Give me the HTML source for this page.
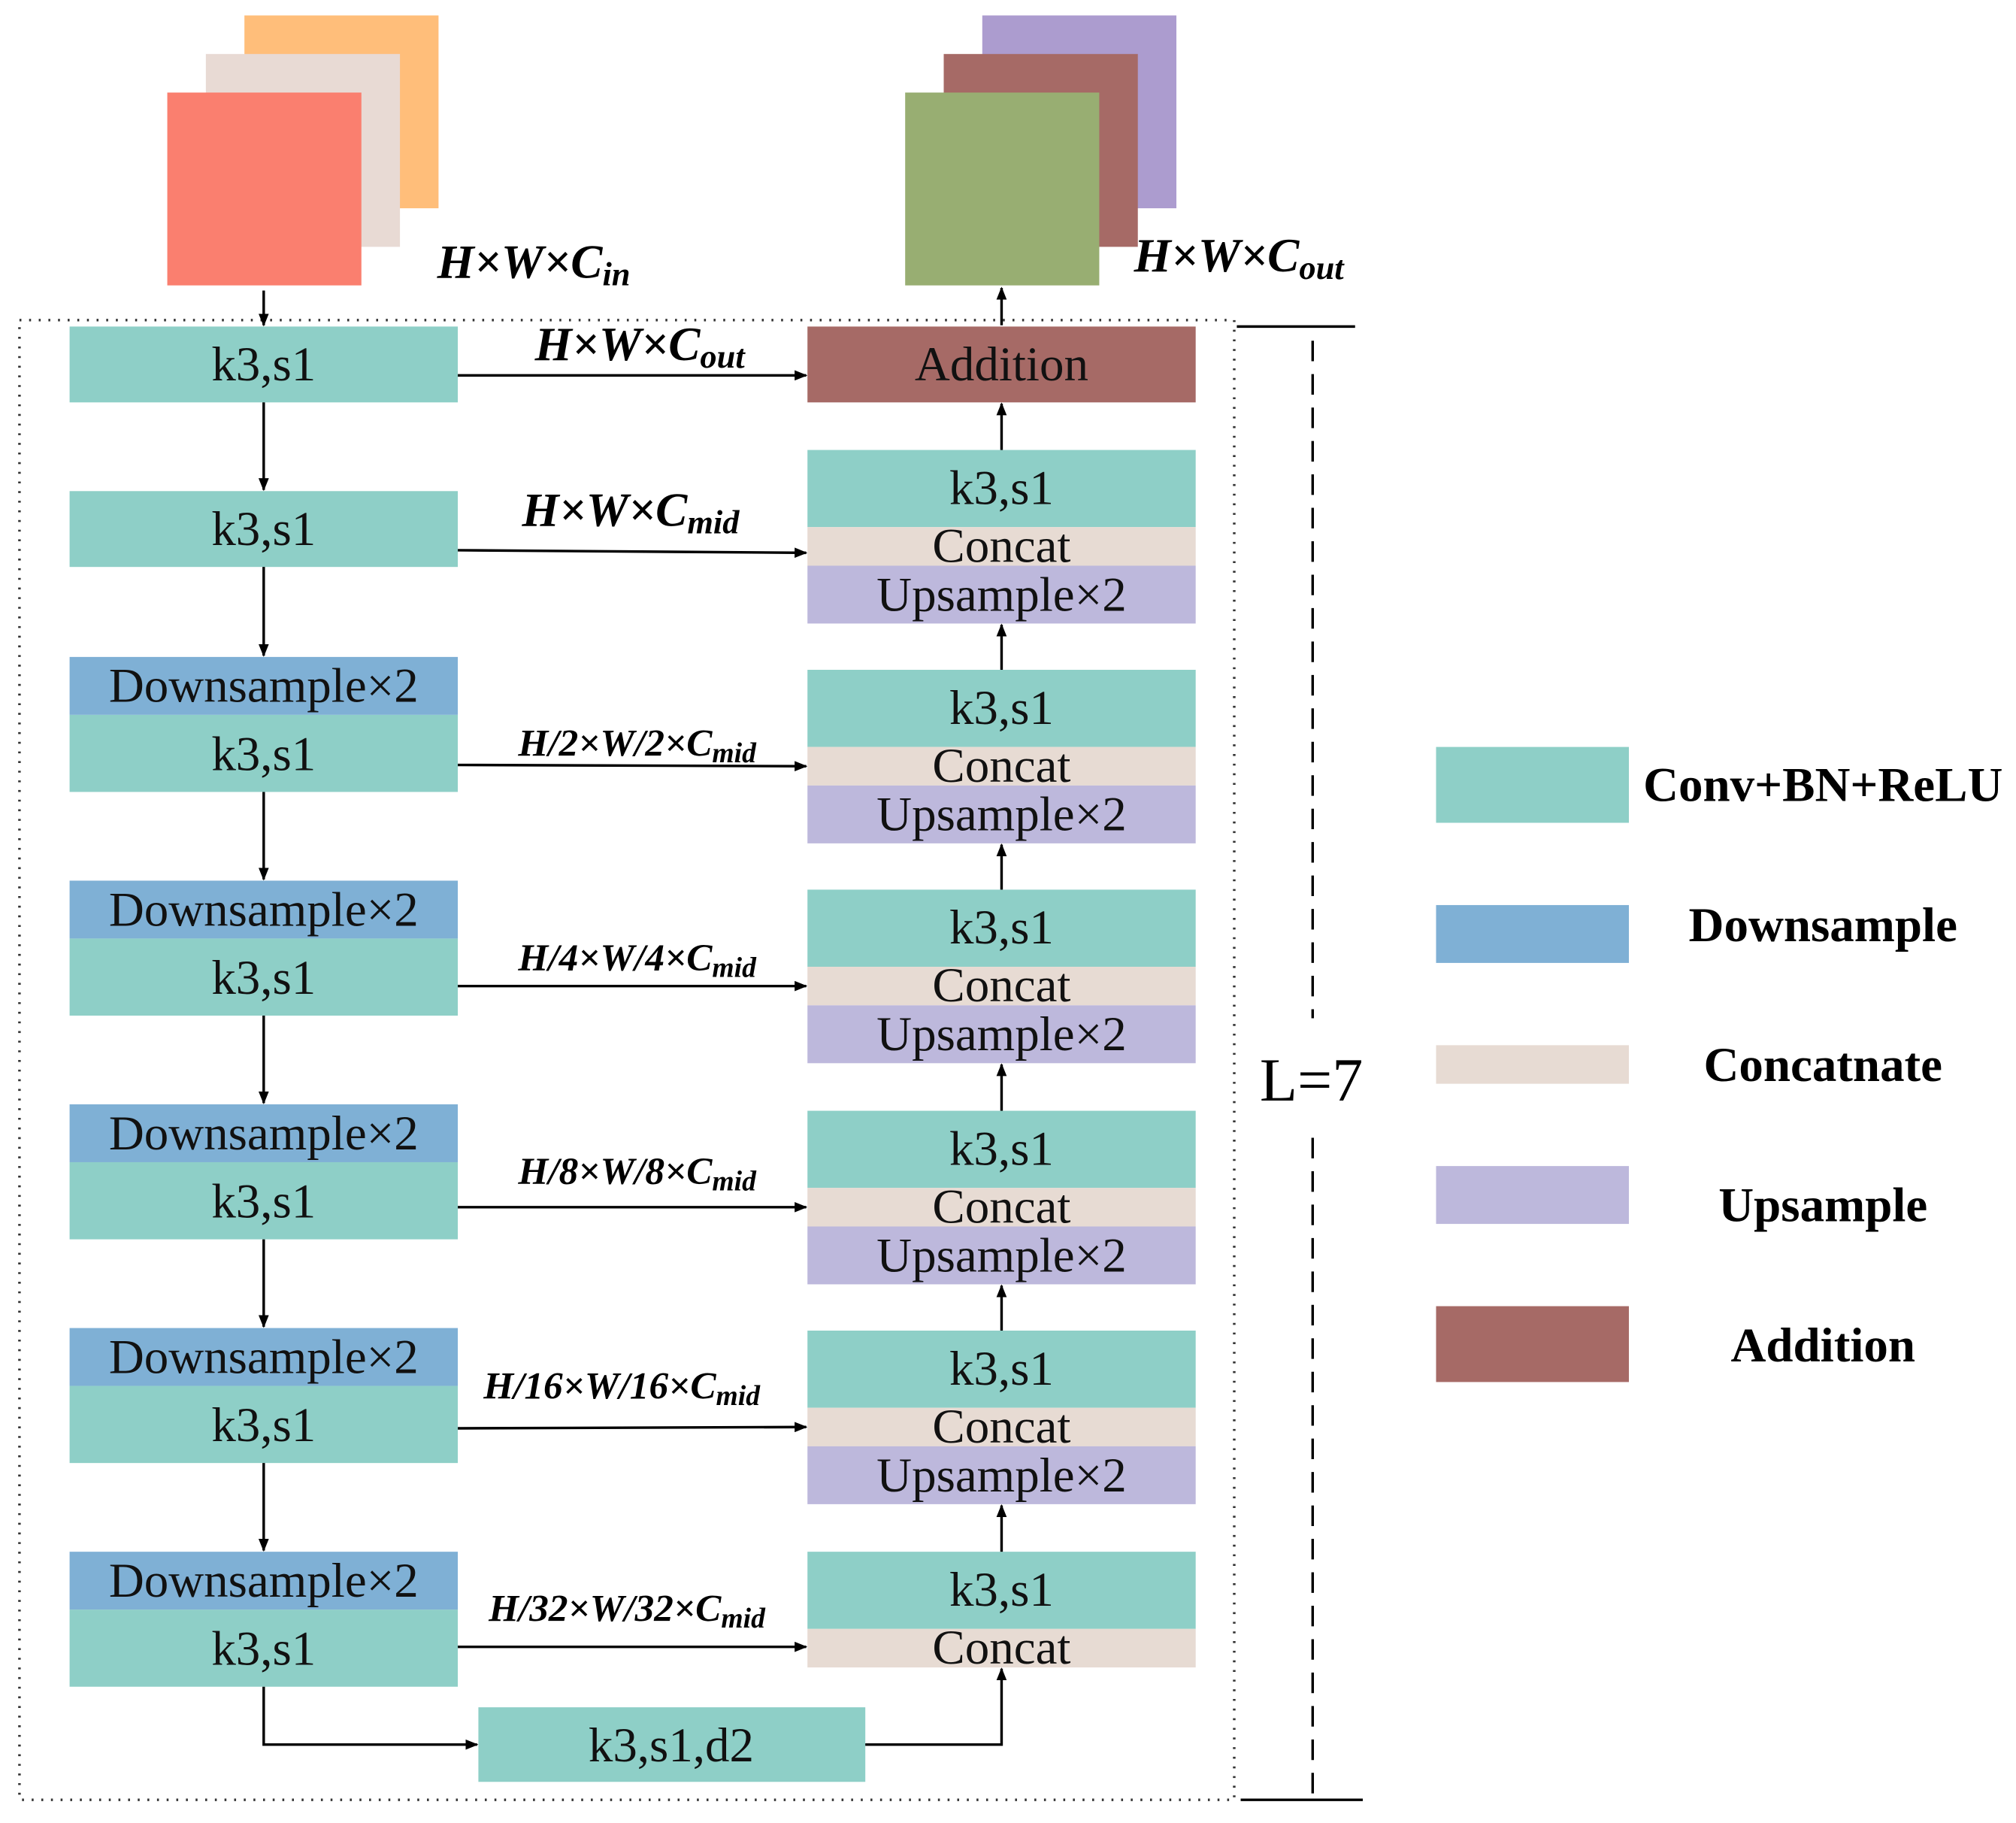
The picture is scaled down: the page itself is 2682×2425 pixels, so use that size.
<!DOCTYPE html>
<html><head><meta charset="utf-8"><style>html,body{margin:0;padding:0;background:#fff}svg{display:block}</style></head>
<body>
<svg width="2682" height="2425" viewBox="0 0 1568 1418" xmlns="http://www.w3.org/2000/svg" font-family="'Liberation Serif', serif">
<defs>
<marker id="a" markerWidth="10" markerHeight="8" refX="9" refY="4" orient="auto" markerUnits="userSpaceOnUse"><path d="M0,0 L10,4 L0,8 z" fill="#000"/></marker>
</defs>
<rect width="1568" height="1418" fill="#fff"/>
<rect x="190" y="12" width="151" height="150" fill="#ffbe7a"/>
<rect x="160" y="42" width="151" height="150" fill="#e8dad4"/>
<rect x="130" y="72" width="151" height="150" fill="#fa7f6f"/>
<rect x="764" y="12" width="151" height="150" fill="#ac9ccf"/>
<rect x="734" y="42" width="151" height="150" fill="#a66a66"/>
<rect x="704" y="72" width="151" height="150" fill="#98ae72"/>
<g font-style="italic" font-weight="bold" font-size="37">
<text x="340" y="216">H×W×C<tspan font-size="26" dy="6">in</tspan></text>
<text x="882" y="211">H×W×C<tspan font-size="26" dy="6">out</tspan></text>
</g>
<rect x="15" y="249" width="945" height="1151" fill="none" stroke="#333" stroke-width="2" stroke-dasharray="1.5,6"/>
<g fill="#8ecfc7">
<rect x="54" y="254" width="302" height="59"/>
<rect x="54" y="382" width="302" height="59"/>
<rect x="54" y="556" width="302" height="60"/>
<rect x="54" y="730" width="302" height="60"/>
<rect x="54" y="904" width="302" height="60"/>
<rect x="54" y="1078" width="302" height="60"/>
<rect x="54" y="1252" width="302" height="60"/>
<rect x="372" y="1328" width="301" height="58"/>
<rect x="628" y="350" width="302" height="60"/>
<rect x="628" y="521" width="302" height="60"/>
<rect x="628" y="692" width="302" height="60"/>
<rect x="628" y="864" width="302" height="60"/>
<rect x="628" y="1035" width="302" height="60"/>
<rect x="628" y="1207" width="302" height="60"/>
</g>
<g fill="#7fb0d5">
<rect x="54" y="511" width="302" height="45"/>
<rect x="54" y="685" width="302" height="45"/>
<rect x="54" y="859" width="302" height="45"/>
<rect x="54" y="1033" width="302" height="45"/>
<rect x="54" y="1207" width="302" height="45"/>
</g>
<g fill="#e7dbd3">
<rect x="628" y="410" width="302" height="30"/>
<rect x="628" y="581" width="302" height="30"/>
<rect x="628" y="752" width="302" height="30"/>
<rect x="628" y="924" width="302" height="30"/>
<rect x="628" y="1095" width="302" height="30"/>
<rect x="628" y="1267" width="302" height="30"/>
</g>
<g fill="#bdb8dc">
<rect x="628" y="440" width="302" height="45"/>
<rect x="628" y="611" width="302" height="45"/>
<rect x="628" y="782" width="302" height="45"/>
<rect x="628" y="954" width="302" height="45"/>
<rect x="628" y="1125" width="302" height="45"/>
</g>
<rect x="628" y="254" width="302" height="59" fill="#a66a66"/>
<g font-size="38" text-anchor="middle" fill="#111">
<text x="205" y="296">k3,s1</text>
<text x="205" y="424">k3,s1</text>
<text x="205" y="546">Downsample×2</text><text x="205" y="599">k3,s1</text>
<text x="205" y="720">Downsample×2</text><text x="205" y="773">k3,s1</text>
<text x="205" y="894">Downsample×2</text><text x="205" y="947">k3,s1</text>
<text x="205" y="1068">Downsample×2</text><text x="205" y="1121">k3,s1</text>
<text x="205" y="1242">Downsample×2</text><text x="205" y="1295">k3,s1</text>
<text x="522" y="1370">k3,s1,d2</text>
<text x="779" y="296">Addition</text>
<text x="779" y="392">k3,s1</text><text x="779" y="437">Concat</text><text x="779" y="475">Upsample×2</text>
<text x="779" y="563">k3,s1</text><text x="779" y="608">Concat</text><text x="779" y="646">Upsample×2</text>
<text x="779" y="734">k3,s1</text><text x="779" y="779">Concat</text><text x="779" y="817">Upsample×2</text>
<text x="779" y="906">k3,s1</text><text x="779" y="951">Concat</text><text x="779" y="989">Upsample×2</text>
<text x="779" y="1077">k3,s1</text><text x="779" y="1122">Concat</text><text x="779" y="1160">Upsample×2</text>
<text x="779" y="1249">k3,s1</text><text x="779" y="1294">Concat</text>
</g>
<g stroke="#000" stroke-width="2" fill="none" marker-end="url(#a)">
<line x1="205" y1="226" x2="205" y2="253"/>
<line x1="779" y1="253" x2="779" y2="224"/>
<line x1="205" y1="313" x2="205" y2="381"/>
<line x1="205" y1="441" x2="205" y2="510"/>
<line x1="205" y1="616" x2="205" y2="684"/>
<line x1="205" y1="790" x2="205" y2="858"/>
<line x1="205" y1="964" x2="205" y2="1032"/>
<line x1="205" y1="1138" x2="205" y2="1206"/>
<polyline points="205,1312 205,1357 371,1357"/>
<polyline points="673,1357 779,1357 779,1298"/>
<line x1="779" y1="1207" x2="779" y2="1171"/>
<line x1="779" y1="1035" x2="779" y2="1000"/>
<line x1="779" y1="864" x2="779" y2="828"/>
<line x1="779" y1="692" x2="779" y2="657"/>
<line x1="779" y1="521" x2="779" y2="486"/>
<line x1="779" y1="350" x2="779" y2="314"/>
<line x1="356" y1="292" x2="627" y2="292"/>
<line x1="356" y1="428" x2="627" y2="430"/>
<line x1="356" y1="595" x2="627" y2="596"/>
<line x1="356" y1="767" x2="627" y2="767"/>
<line x1="356" y1="939" x2="627" y2="939"/>
<line x1="356" y1="1111" x2="627" y2="1110"/>
<line x1="356" y1="1281" x2="627" y2="1281"/>
</g>
<g font-style="italic" font-weight="bold" font-size="37">
<text x="416" y="280">H×W×C<tspan font-size="26" dy="6">out</tspan></text>
<text x="406" y="409">H×W×C<tspan font-size="26" dy="6">mid</tspan></text>
</g>
<g font-style="italic" font-weight="bold" font-size="30">
<text x="403" y="588">H/2×W/2×C<tspan font-size="22" dy="5">mid</tspan></text>
<text x="403" y="755">H/4×W/4×C<tspan font-size="22" dy="5">mid</tspan></text>
<text x="403" y="921">H/8×W/8×C<tspan font-size="22" dy="5">mid</tspan></text>
<text x="376" y="1088">H/16×W/16×C<tspan font-size="22" dy="5">mid</tspan></text>
<text x="380" y="1261">H/32×W/32×C<tspan font-size="22" dy="5">mid</tspan></text>
</g>
<g stroke="#000" stroke-width="2">
<line x1="962" y1="254" x2="1054" y2="254"/>
<line x1="965" y1="1400" x2="1060" y2="1400"/>
<line x1="1021" y1="265" x2="1021" y2="792" stroke-dasharray="16,10"/>
<line x1="1021" y1="885" x2="1021" y2="1400" stroke-dasharray="16,10"/>
</g>
<text x="1020" y="856" font-size="48" text-anchor="middle">L=7</text>
<rect x="1117" y="581" width="150" height="59" fill="#8ecfc7"/>
<rect x="1117" y="704" width="150" height="45" fill="#7fb0d5"/>
<rect x="1117" y="813" width="150" height="30" fill="#e7dbd3"/>
<rect x="1117" y="907" width="150" height="45" fill="#bdb8dc"/>
<rect x="1117" y="1016" width="150" height="59" fill="#a66a66"/>
<g font-weight="bold" font-size="38" text-anchor="middle">
<text x="1418" y="623">Conv+BN+ReLU</text>
<text x="1418" y="732">Downsample</text>
<text x="1418" y="841">Concatnate</text>
<text x="1418" y="950">Upsample</text>
<text x="1418" y="1059">Addition</text>
</g>
</svg>
</body></html>
